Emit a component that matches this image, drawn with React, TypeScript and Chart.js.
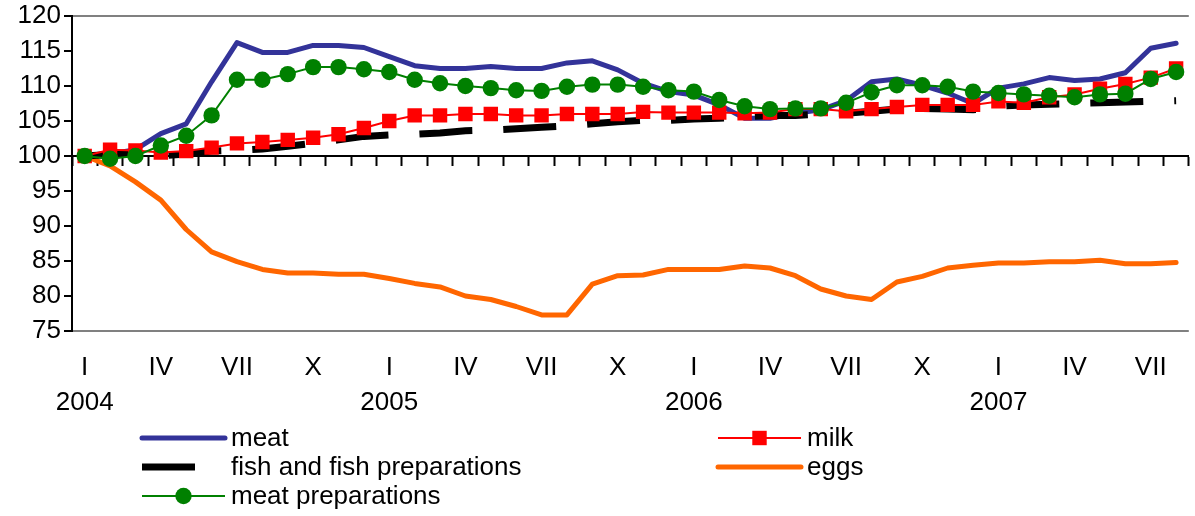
import React, { useEffect, useRef } from 'react';
import { Chart, registerables } from 'chart.js';

Chart.register(...registerables);

const FONT = '"Liberation Sans", Arial, sans-serif';

const categories = [
  '2004-01', '2004-02', '2004-03', '2004-04', '2004-05', '2004-06', '2004-07', '2004-08', '2004-09', '2004-10', '2004-11', '2004-12',
  '2005-01', '2005-02', '2005-03', '2005-04', '2005-05', '2005-06', '2005-07', '2005-08', '2005-09', '2005-10', '2005-11', '2005-12',
  '2006-01', '2006-02', '2006-03', '2006-04', '2006-05', '2006-06', '2006-07', '2006-08', '2006-09', '2006-10', '2006-11', '2006-12',
  '2007-01', '2007-02', '2007-03', '2007-04', '2007-05', '2007-06', '2007-07', '2007-08',
];

const monthTicks = [
  'I', '', '', 'IV', '', '', 'VII', '', '', 'X', '', '',
  'I', '', '', 'IV', '', '', 'VII', '', '', 'X', '', '',
  'I', '', '', 'IV', '', '', 'VII', '', '', 'X', '', '',
  'I', '', '', 'IV', '', '', 'VII', '',
];

const yearTicks = [
  '2004', '', '', '', '', '', '', '', '', '', '', '',
  '2005', '', '', '', '', '', '', '', '', '', '', '',
  '2006', '', '', '', '', '', '', '', '', '', '', '',
  '2007', '', '', '', '', '', '', '',
];

const meat = [
  100.0, 100.3, 100.9, 103.2, 104.6, 110.6, 116.2, 114.8, 114.8, 115.8, 115.8, 115.5,
  114.2, 112.9, 112.5, 112.5, 112.8, 112.5, 112.5, 113.3, 113.6, 112.3, 110.4, 109.2,
  108.7, 107.3, 105.4, 105.4, 106.1, 106.6, 107.9, 110.6, 111.0, 110.1, 109.0, 107.5,
  109.7, 110.3, 111.2, 110.8, 111.0, 111.9, 115.4, 116.1,
];

const milk = [
  100.0, 100.9, 100.8, 100.5, 100.7, 101.2, 101.8, 102.0, 102.3, 102.6, 103.1, 104.0,
  105.0, 105.8, 105.8, 106.0, 106.0, 105.8, 105.8, 106.0, 106.0, 106.0, 106.3, 106.2,
  106.2, 106.2, 106.1, 106.2, 106.7, 106.7, 106.4, 106.7, 107.0, 107.3, 107.3, 107.3,
  107.8, 107.6, 108.4, 108.8, 109.6, 110.3, 111.2, 112.5,
];

const fish = [
  100.0, 100.2, 100.3, 100.0, 100.3, 100.7, 100.8, 101.0, 101.4, 101.8, 102.3, 102.8,
  103.0, 103.1, 103.3, 103.6, 103.7, 103.9, 104.1, 104.3, 104.6, 104.9, 105.1, 105.1,
  105.3, 105.4, 105.6, 105.8, 105.8, 106.0, 106.1, 106.4, 106.7, 106.8, 106.7, 106.6,
  107.1, 107.3, 107.4, 107.5, 107.6, 107.7, 107.8, 107.9,
];

const eggs = [
  100.0, 98.6, 96.3, 93.7, 89.5, 86.3, 84.9, 83.8, 83.3, 83.3, 83.1, 83.1,
  82.5, 81.8, 81.3, 80.0, 79.5, 78.5, 77.3, 77.3, 81.7, 82.9, 83.0, 83.8,
  83.8, 83.8, 84.3, 84.0, 82.9, 81.0, 80.0, 79.5, 82.0, 82.8, 84.0, 84.4,
  84.7, 84.7, 84.9, 84.9, 85.1, 84.6, 84.6, 84.8,
];

const meatPreparations = [
  100.0, 99.6, 100.0, 101.5, 102.9, 105.8, 110.9, 110.9, 111.7, 112.7, 112.7, 112.4,
  112.0, 110.9, 110.4, 110.0, 109.7, 109.4, 109.3, 109.9, 110.2, 110.2, 109.9, 109.4,
  109.2, 108.0, 107.1, 106.7, 106.8, 106.8, 107.6, 109.1, 110.1, 110.1, 109.9, 109.2,
  109.0, 108.8, 108.6, 108.4, 108.8, 108.9, 111.0, 112.0,
];

const yTicks = { min: 75, max: 120, step: 5 };

const legendLayout = [
  { label: 'meat', x: 142, y: 438 },
  { label: 'fish and fish preparations', x: 142, y: 467 },
  { label: 'meat preparations', x: 142, y: 496 },
  { label: 'milk', x: 718, y: 438 },
  { label: 'eggs', x: 718, y: 467 },
];

const twoColumnLegend = {
  id: 'twoColumnLegend',
  afterDraw(chart: any) {
    const ctx = chart.ctx as CanvasRenderingContext2D;
    ctx.save();
    for (const item of legendLayout) {
      const ds: any = chart.data.datasets.find((d: any) => d.label === item.label);
      if (!ds) continue;
      const x1 = item.x;
      const x2 = item.x + 83;
      ctx.beginPath();
      ctx.strokeStyle = ds.borderColor;
      ctx.lineWidth = ds.borderWidth;
      ctx.setLineDash(ds.borderDash || []);
      ctx.lineCap = ds.borderCapStyle || 'butt';
      ctx.moveTo(x1, item.y);
      ctx.lineTo(x2, item.y);
      ctx.stroke();
      ctx.setLineDash([]);
      if (ds.pointRadius > 0) {
        const cx = (x1 + x2) / 2;
        ctx.fillStyle = ds.pointBackgroundColor;
        if (ds.pointStyle === 'rect') {
          const s = Math.SQRT1_2 * ds.pointRadius;
          ctx.fillRect(cx - s, item.y - s, 2 * s, 2 * s);
        } else {
          ctx.beginPath();
          ctx.arc(cx, item.y, ds.pointRadius, 0, Math.PI * 2);
          ctx.fill();
        }
      }
      ctx.fillStyle = '#000';
      ctx.font = `26px ${FONT}`;
      ctx.textBaseline = 'middle';
      ctx.textAlign = 'left';
      ctx.fillText(item.label, x2 + 6, item.y + 1);
    }
    ctx.restore();
  },
};

export default function App() {
  const canvasRef = useRef<HTMLCanvasElement | null>(null);

  useEffect(() => {
    if (!canvasRef.current) return;
    Chart.defaults.font.family = FONT;
    const chart = new Chart(canvasRef.current, {
      type: 'line',
      data: {
        labels: categories,
        datasets: [
          {
            label: 'meat preparations',
            data: meatPreparations,
            borderColor: '#008000',
            backgroundColor: '#008000',
            borderWidth: 2,
            pointStyle: 'circle',
            pointRadius: 8.2,
            pointBackgroundColor: '#008000',
            pointBorderColor: '#008000',
            pointBorderWidth: 0,
            tension: 0,
            xAxisID: 'x',
            yAxisID: 'y',
          },
          {
            label: 'milk',
            data: milk,
            borderColor: '#FF0000',
            backgroundColor: '#FF0000',
            borderWidth: 2,
            pointStyle: 'rect',
            pointRadius: 10.2,
            pointBackgroundColor: '#FF0000',
            pointBorderColor: '#FF0000',
            pointBorderWidth: 0,
            tension: 0,
            xAxisID: 'x',
            yAxisID: 'y',
          },
          {
            label: 'fish and fish preparations',
            data: fish,
            borderColor: '#000000',
            backgroundColor: '#000000',
            borderWidth: 7,
            borderDash: [53, 31],
            borderCapStyle: 'butt',
            pointRadius: 0,
            tension: 0,
            xAxisID: 'x',
            yAxisID: 'y',
          },
          {
            label: 'eggs',
            data: eggs,
            borderColor: '#FF6600',
            backgroundColor: '#FF6600',
            borderWidth: 5,
            borderCapStyle: 'round',
            borderJoinStyle: 'round',
            pointRadius: 0,
            tension: 0,
            xAxisID: 'x',
            yAxisID: 'y',
          },
          {
            label: 'meat',
            data: meat,
            borderColor: '#333399',
            backgroundColor: '#333399',
            borderWidth: 5,
            borderCapStyle: 'round',
            borderJoinStyle: 'round',
            pointRadius: 0,
            tension: 0,
            xAxisID: 'x',
            yAxisID: 'y',
          },
        ],
      },
      options: {
        animation: false,
        responsive: true,
        maintainAspectRatio: false,
        layout: { padding: { top: 16, right: 0, bottom: 85, left: 0 } },
        plugins: {
          legend: { display: false },
          tooltip: { enabled: false },
        },
        events: [],
        scales: {
          x: {
            type: 'category',
            position: { y: 100 } as any,
            offset: true,
            grid: {
              display: true,
              drawOnChartArea: false,
              drawTicks: true,
              tickLength: 9,
              tickColor: '#000',
              tickWidth: 2,
              offset: true,
            },
            border: { display: true, color: '#000', width: 2 },
            ticks: { display: false },
          },
          x2: {
            type: 'category',
            axis: 'x',
            position: 'bottom',
            labels: categories,
            offset: true,
            grid: { display: false, drawTicks: false },
            border: { display: false },
            ticks: {
              autoSkip: false,
              maxRotation: 0,
              minRotation: 0,
              padding: 19,
              color: '#000',
              font: { family: FONT, size: 26, lineHeight: 1.35 },
              callback: (_v: any, i: number) =>
                yearTicks[i] ? [monthTicks[i], yearTicks[i]] : monthTicks[i],
            },
            afterFit: (s: any) => {
              s.height = 100;
              s.paddingLeft = 0;
              s.paddingRight = 0;
            },
          },
          y: {
            min: yTicks.min,
            max: yTicks.max,
            ticks: {
              stepSize: yTicks.step,
              autoSkip: false,
              padding: 3,
              color: '#000',
              font: { family: FONT, size: 26, lineHeight: 1.0 },
            },
            grid: {
              color: (c: any) =>
                c.tick && (c.tick.value === yTicks.max || c.tick.value === yTicks.min)
                  ? '#808080'
                  : 'rgba(0,0,0,0)',
              lineWidth: 2,
              drawTicks: true,
              tickLength: 8,
              tickColor: '#000',
              tickWidth: 2,
            },
            border: { display: true, color: '#000', width: 2 },
            afterFit: (s: any) => {
              s.width = 72;
            },
          },
        },
      } as any,
      plugins: [twoColumnLegend],
    });
    return () => chart.destroy();
  }, []);

  return (
    <div style={{ position: 'fixed', left: 0, top: 0, width: 1199, height: 516, background: '#fff' }}>
      <canvas ref={canvasRef} />
    </div>
  );
}
